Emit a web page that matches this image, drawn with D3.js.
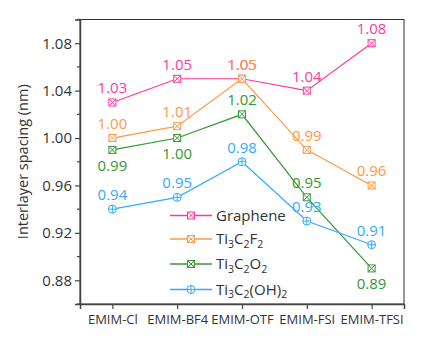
<!DOCTYPE html>
<html><head><meta charset="utf-8">
<script src="https://cdn.jsdelivr.net/npm/d3@7"></script>
<style>body{margin:0;background:#fff}svg{display:block}text{font-family:"Open Sans","Noto Sans",sans-serif}</style>
</head><body><div id="c"></div>
<script>
const categories = ["EMIM-Cl","EMIM-BF4","EMIM-OTF","EMIM-FSI","EMIM-TFSI"];
const graphene = [1.03,1.05,1.05,1.04,1.08];
const ti3c2f2 = [1.00,1.01,1.05,0.99,0.96];
const ti3c2o2 = [0.99,1.00,1.02,0.95,0.89];
const ti3c2oh2 = [0.94,0.95,0.98,0.93,0.91];
const yTicks = [0.88,0.92,0.96,1.00,1.04,1.08];
const seriesNames = [
  [["Graphene",""]],
  [["Ti",""],["3","sub"],["C",""],["2","sub"],["F",""],["2","sub"]],
  [["Ti",""],["3","sub"],["C",""],["2","sub"],["O",""],["2","sub"]],
  [["Ti",""],["3","sub"],["C",""],["2","sub"],["(OH)",""],["2","sub"]]
];
const colors = ["#FF3A9D","#FF9A45","#339933","#33AAFF"];
const markers = ["sq","sq","sq","circ"];
// label placement: 1 = above, -1 = below
const labelPos = [
  [1,1,1,1,1],
  [1,1,1,1,1],
  [-1,-1,1,1,-1],
  [1,1,1,1,1]
];
const series = [graphene, ti3c2f2, ti3c2o2, ti3c2oh2];

const W=421,H=338;
const L=80,R=404,T=19.5,B=304;
const FF='"Open Sans","Noto Sans",sans-serif';
const svg=d3.select("#c").append("svg").attr("width",W).attr("height",H);
const x=d3.scalePoint().domain(categories).range([L,R]).padding(0.5);
const y=d3.scaleLinear().domain([0.86,1.10]).range([B,T]);

svg.append("rect").attr("x",L).attr("y",T).attr("width",R-L).attr("height",B-T)
  .attr("fill","none").attr("stroke","#333").attr("stroke-width",1);

const ya=svg.append("g").attr("transform",`translate(${L},0)`)
  .call(d3.axisLeft(y).tickValues(yTicks).tickFormat(d3.format(".2f")).tickSize(5).tickPadding(3));
ya.attr("font-size",null).attr("font-family",null);
ya.select(".domain").attr("stroke","#444").attr("stroke-width",1.5);
ya.selectAll(".tick line").attr("stroke","#444").attr("stroke-width",1.2);
ya.selectAll("text").style("font-size","15px").attr("fill","#333").style("font-family",FF);
const minor=[0.86,0.90,0.94,0.98,1.02,1.06,1.10];
svg.append("g").selectAll("line").data(minor).join("line")
  .attr("x1",L-3).attr("x2",L).attr("y1",d=>y(d)).attr("y2",d=>y(d))
  .attr("stroke","#444").attr("stroke-width",1.2);

const xa=svg.append("g").attr("transform",`translate(0,${B})`)
  .call(d3.axisBottom(x).tickSize(5).tickPadding(6));
xa.attr("font-size",null).attr("font-family",null);
xa.select(".domain").attr("stroke","#444").attr("stroke-width",1.5);
xa.selectAll(".tick line").attr("stroke","#444").attr("stroke-width",1.2);
xa.selectAll("text").style("font-size","13px").attr("fill","#333").style("font-family",FF);

svg.append("text").attr("transform",`translate(28,${(T+B)/2}) rotate(-90)`)
  .attr("text-anchor","middle").style("font-size","14.5px").attr("fill","#333")
  .text("Interlayer spacing (nm)");

function drawMarker(g,type,cx,cy,col){
  if(type==="sq"){
    const s=3.5;
    g.append("rect").attr("x",cx-s).attr("y",cy-s).attr("width",2*s).attr("height",2*s)
      .attr("fill","#fff").attr("stroke",col).attr("stroke-width",1);
    g.append("path").attr("d",`M${cx-s},${cy-s}L${cx+s},${cy+s}M${cx+s},${cy-s}L${cx-s},${cy+s}`)
      .attr("stroke",col).attr("stroke-width",1);
  } else {
    const r=4;
    g.append("circle").attr("cx",cx).attr("cy",cy).attr("r",r)
      .attr("fill","#fff").attr("stroke",col).attr("stroke-width",1);
    g.append("path").attr("d",`M${cx-r},${cy}L${cx+r},${cy}M${cx},${cy-r}L${cx},${cy+r}`)
      .attr("stroke",col).attr("stroke-width",1);
  }
}

const line=d3.line().x((d,i)=>x(categories[i])).y(d=>y(d));
series.forEach((s,k)=>{
  const g=svg.append("g");
  g.append("path").datum(s).attr("d",line).attr("fill","none")
    .attr("stroke",colors[k]).attr("stroke-width",1.2);
  s.forEach((v,i)=>drawMarker(g,markers[k],x(categories[i]),y(v),colors[k]));
  g.selectAll("text.lab").data(s).join("text").attr("class","lab")
    .attr("x",(d,i)=>x(categories[i]))
    .attr("y",(d,i)=>labelPos[k][i]>0 ? y(d)-9 : y(d)+21)
    .attr("text-anchor","middle").style("font-size","15px").attr("fill",colors[k])
    .text(d=>d3.format(".2f")(d));
});

const legY=[215.5,239,264,289.5];
seriesNames.forEach((parts,k)=>{
  const g=svg.append("g");
  const cy=legY[k];
  g.append("line").attr("x1",170).attr("x2",212).attr("y1",cy).attr("y2",cy)
    .attr("stroke",colors[k]).attr("stroke-width",1.5);
  drawMarker(g,markers[k],191,cy,colors[k]);
  const t=g.append("text").attr("x",216).attr("y",cy+5).style("font-size","15px").attr("fill","#333");
  let prevSub=false;
  parts.forEach(([txt,kind])=>{
    const ts=t.append("tspan").text(txt);
    if(kind==="sub"){ ts.style("font-size","10.5px").attr("dy",3.5); prevSub=true; }
    else { ts.attr("dy", prevSub? -3.5 : 0); prevSub=false; }
  });
});
</script></body></html>
